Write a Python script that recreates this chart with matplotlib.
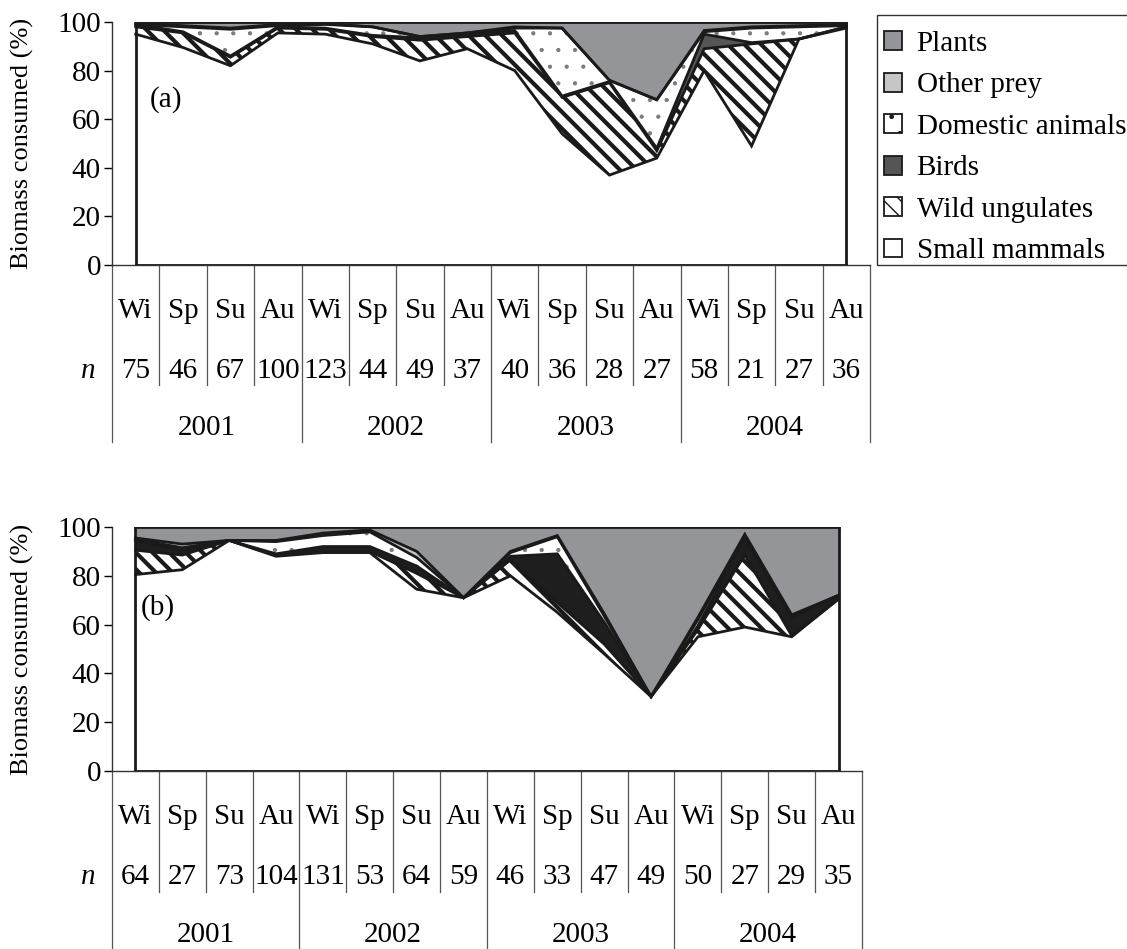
import matplotlib
matplotlib.use('Agg')
import matplotlib.pyplot as plt
from matplotlib.patches import Patch, Rectangle
import numpy as np

plt.rcParams['font.family'] = ['Liberation Serif', 'DejaVu Serif']

seasons = ['Wi', 'Sp', 'Su', 'Au'] * 4
years = ['2001', '2002', '2003', '2004']
groups = ['Small mammals', 'Wild ungulates', 'Birds', 'Domestic animals', 'Other prey', 'Plants']

# sample sizes per season
n_a = [75, 46, 67, 100, 123, 44, 49, 37, 40, 36, 28, 27, 58, 21, 27, 36]
n_b = [64, 27, 73, 104, 131, 53, 64, 59, 46, 33, 47, 49, 50, 27, 29, 35]

# (a) biomass consumed, % per season
small_a = [95, 89.5, 82, 95.5, 95, 91, 84, 89, 80, 54, 37, 44, 80, 49, 93, 97.5]
ungul_a = [3, 6, 3.5, 2, 2, 3, 8.5, 5, 15.5, 15, 38, 3, 9, 42, 0, 0.5]
birds_a = [1, 0.5, 0.5, 0.5, 0.5, 0.5, 1, 1, 1, 0.5, 0.5, 1, 6, 0.5, 0, 0]
domest_a = [0, 2, 11, 0.5, 1.5, 3.5, 0.5, 0.5, 1, 28, 0.5, 20, 1, 6, 5, 0.5]
other_a = [0.5, 0.5, 0.5, 0.5, 0.3, 0, 0, 0, 0.5, 0, 0, 0, 0.5, 0.5, 0.5, 0.5]
plants_a = [0.5, 1.5, 2.5, 1, 0.7, 2, 6, 4.5, 2, 2.5, 24, 32, 3.5, 2, 1.5, 1]

# (b) biomass consumed, % per season
small_b = [80.5, 82.5, 94.5, 88, 89.5, 89.5, 74.5, 71, 80, 65, 48, 30.5, 55, 59, 55, 70.5]
ungul_b = [10, 6, 0, 0.3, 0.5, 0.5, 6.5, 0, 6.5, 4, 4, 0, 3, 29.5, 0.5, 0]
birds_b = [4, 2, 0, 0.7, 2, 2, 3, 0, 1.5, 20, 9, 0, 1.5, 7, 7.5, 1.5]
domest_b = [0.5, 1, 0, 5, 4.5, 6, 3.5, 0, 1.5, 7, 2.5, 0, 2.5, 1, 0.5, 0]
other_b = [0.5, 1.5, 0, 0.5, 1, 0.8, 2.5, 0, 0.5, 0.5, 1, 0, 1, 0.5, 0.5, 0]
plants_b = [4.5, 7, 5.5, 5.5, 2.5, 1.2, 10, 29, 10, 3.5, 35.5, 69.5, 37, 3, 36, 28]

hatches = [None, '\\\\', None, '.', None, None]
hatch_col = ['#1a1a1a', '#1a1a1a', '#1a1a1a', '#7a7a7a', '#1a1a1a', '#1a1a1a']
hatch_lw = [1.0, 3.0, 1.0, 0.6, 1.0, 1.0]
FS = 21
EDGE = '#1a1a1a'


def draw_panel(ax, layers, colors, n, tag, tag_xy):
    x = np.arange(len(seasons))
    base = np.zeros(len(x))
    tops = []
    for vals, fc, h, hc, hl in zip(layers, colors, hatches, hatch_col, hatch_lw):
        top = base + np.array(vals)
        with plt.rc_context({'hatch.linewidth': hl}):
            ax.fill_between(x, base, top, facecolor=fc, edgecolor=hc,
                            hatch=h, linewidth=0, zorder=2)
        tops.append(top)
        base = top
    # black outlines of each stacked layer
    ax.plot(x, np.zeros(len(x)), color=EDGE, lw=2.0, zorder=3, solid_joinstyle='miter')
    for top in tops:
        ax.plot(x, top, color=EDGE, lw=2.0, zorder=3, solid_joinstyle='miter')
    ax.vlines([x[0], x[-1]], 0, 100, color=EDGE, lw=2.0, zorder=3)

    ax.set_xlim(-0.5, len(x) - 0.5)
    ax.set_ylim(0, 100)
    ax.set_yticks(range(0, 101, 20))
    ax.set_xticks([])
    ax.tick_params(axis='y', direction='out', length=6, width=1, pad=2, labelsize=FS)
    for s in ['top', 'right']:
        ax.spines[s].set_visible(False)
    for s in ['left', 'bottom']:
        ax.spines[s].set_linewidth(1.0)
        ax.spines[s].set_color('#333333')

    # table of seasons / n / years under the x axis
    for k in range(len(x) + 1):
        low = -73 if k % 4 == 0 else -49.5
        ax.plot([k - 0.5, k - 0.5], [0, low], color='#555555', lw=0.9, clip_on=False)
    for i in x:
        ax.text(i, -19, seasons[i], ha='center', va='center', fontsize=FS, clip_on=False)
        ax.text(i, -43.5, str(n[i]), ha='center', va='center', fontsize=FS, clip_on=False)
    for j, yr in enumerate(years):
        ax.text(4 * j + 1.5, -70, yr, ha='center', va='baseline', fontsize=FS, clip_on=False)
    ax.text(-1.0, -43.5, 'n', style='italic', ha='center', va='center', fontsize=FS, clip_on=False)
    ax.text(tag_xy[0], tag_xy[1], tag, ha='left', va='center', fontsize=FS, zorder=4)


fig = plt.figure(figsize=(11.27, 9.49), dpi=100)
ax_a = fig.add_axes([112 / 1127, 1 - 265 / 949, 758 / 1127, 243 / 949])
ax_b = fig.add_axes([112 / 1127, 1 - 771 / 949, 750 / 1127, 244 / 949])

draw_panel(ax_a, [small_a, ungul_a, birds_a, domest_a, other_a, plants_a],
           ['white', 'white', '#555555', 'white', '#c6c6c6', '#939598'],
           n_a, '(a)', (0.3, 68))
draw_panel(ax_b, [small_b, ungul_b, birds_b, domest_b, other_b, plants_b],
           ['white', 'white', '#1e1e1e', 'white', '#c6c6c6', '#939598'],
           n_b, '(b)', (0.12, 67))

fig.text(22 / 1127, 1 - 143 / 949, 'Biomass consumed (%)', rotation=90,
         ha='center', va='center', fontsize=19)
fig.text(22 / 1127, 1 - 649 / 949, 'Biomass consumed (%)', rotation=90,
         ha='center', va='center', fontsize=19)

legend_colors = ['white', 'white', '#555555', 'white', '#c6c6c6', '#939598']
handles = []
for g, c, h, hl in zip(groups, legend_colors, hatches, hatch_lw):
    with plt.rc_context({'hatch.linewidth': min(hl, 1.5)}):
        handles.append(Patch(facecolor=c, edgecolor=EDGE, hatch=h, linewidth=1.3, label=g))
fig.legend(handles=handles[::-1], loc='upper left', bbox_to_anchor=(884 / 1127, 1 - 31 / 949),
           fontsize=FS, handlelength=0.62, handleheight=0.62, handletextpad=0.5,
           labelspacing=0.53, borderpad=0, borderaxespad=0, frameon=False)
# legend box runs off the right edge of the figure
fig.patches.append(Rectangle((877 / 1127, 1 - 265 / 949), 260 / 1127, 250 / 949,
                             transform=fig.transFigure, fill=False,
                             edgecolor='#333333', lw=1.0))

fig.savefig('out.png', dpi=100)
